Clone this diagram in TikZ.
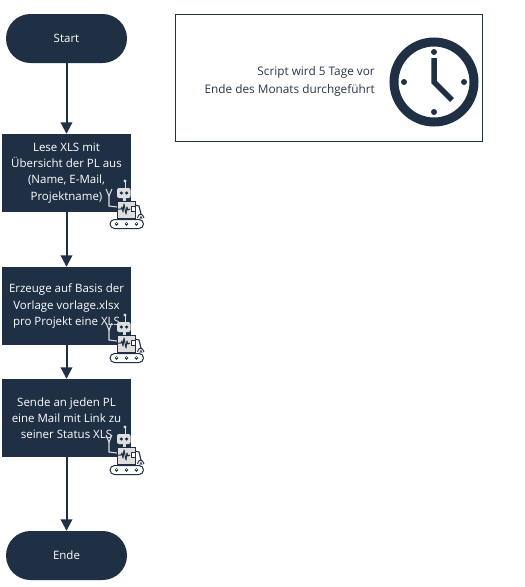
\documentclass[tikz,border=0pt]{standalone}
\usepackage{fontspec}
\setmainfont{Open Sans}
\usetikzlibrary{arrows.meta}
\definecolor{navy}{HTML}{1F3044}
\definecolor{robotgrey}{HTML}{DEDEDE}
\definecolor{txt}{HTML}{28374A}
\tikzset{
  x=1pt,y=-1pt,
  terminal/.style={draw=none,fill=navy,rounded corners=24.5pt,minimum width=121pt,minimum height=49pt,inner sep=0pt,text=white,font=\fontsize{11.5}{16.2}\selectfont,align=center},
  action/.style={draw=none,fill=navy,minimum width=129pt,minimum height=78pt,inner sep=0pt,text=white,font=\fontsize{11.5}{16.2}\selectfont,align=center},
  flow/.style={draw=navy,line width=2pt,-{Triangle[width=11.5pt,length=11.5pt]}},
  note/.style={draw=navy,line width=1pt,minimum width=307pt,minimum height=127pt,inner sep=0pt},
  robot/.pic={
    % antenna
    \draw[line width=1pt,draw=robotgrey] (0,0) -- (0,7);
    \fill[robotgrey] (0,0) circle (1.6);
    % head
    \fill[robotgrey,rounded corners=2pt] (-8,7) rectangle (5.5,17);
    \fill[navy] (-3.6,12) circle (1.7) (1.6,12) circle (1.7);
    % neck
    \fill[robotgrey] (-2,17) rectangle (1,20);
    % left arm
    \draw[line width=1.1pt,draw=robotgrey] (-8,26) -- (-16,25) -- (-16,15);
    \draw[line width=1pt,draw=robotgrey] (-19,8) -- (-16,15) -- (-13,8);
    % right arm
    \draw[line width=1.1pt,draw=navy] (10,24) -- (14,25) -- (16,33);
    \draw[line width=1pt,draw=navy] (12.5,37) .. controls (13,32) and (18,32) .. (19,37);
    \draw[line width=.8pt,draw=navy] (15,38) .. controls (15,35) and (17,35) .. (17,38);
    % body
    \fill[robotgrey,draw=navy,line width=.6pt] (-8,20) rectangle (10,37);
    \fill[white,draw=navy,line width=.5pt] (6,25) rectangle (10,30);
    \draw[navy,line width=1pt,line join=round] (-7,28) -- (-4,28) -- (-3,26) -- (-2,31) -- (-1,23) -- (1,33) -- (2,26) -- (3,29) -- (5,28);
    % tracks
    \draw[navy,fill=white,line width=1pt,rounded corners=4.5pt] (-15,38.5) rectangle (18.5,47.5);
    \fill[navy] (-8.5,43) circle (1.9) (1.5,43) circle (1.9) (11.5,43) circle (1.9);
    \fill[white] (-8.5,42.5) circle (.7) (1.5,42.5) circle (.7) (11.5,42.5) circle (.7);
  }
}
\begin{document}
\begin{tikzpicture}
\useasboundingbox[fill=white] (0,0) rectangle (525,587);
\node[terminal] (start) at (66.5,38.5) {Start};
\node[action] (lese) at (66.5,173) {Lese XLS mit\\Übersicht der PL aus\\(Name, E-Mail,\\Projektname)};
\node[action] (erzeuge) at (66.5,306) {Erzeuge auf Basis der\\Vorlage vorlage.xlsx\\pro Projekt eine XLS};
\node[action] (sende) at (66.5,418) {Sende an jeden PL\\eine Mail mit Link zu\\seiner Status XLS};
\node[terminal] (ende) at (66.5,555.5) {Ende};
\draw[flow] (start) -- (lese);
\draw[flow] (lese) -- (erzeuge);
\draw[flow] (erzeuge) -- (sende);
\draw[flow] (sende) -- (ende);
\pic at (125,181) {robot};
\pic at (125,315) {robot};
\pic at (125,427) {robot};
\node[note] (hinweis) at (328.5,77.5) {};
\node[anchor=east,align=right,inner sep=0pt,text=txt,font=\fontsize{11.8}{17.3}\selectfont] (skript) at (375,81.5) {Script wird 5 Tage vor\\Ende des Monats durchgeführt};
\draw[navy,line width=9pt] (434,82) circle (40);
\fill[navy] (434,52) circle (3) (434,112) circle (3) (404,82) circle (3) (464,82) circle (3);
\draw[navy,line width=5.5pt] (434,58) -- (434,82) -- (452,100);
\end{tikzpicture}
\end{document}
